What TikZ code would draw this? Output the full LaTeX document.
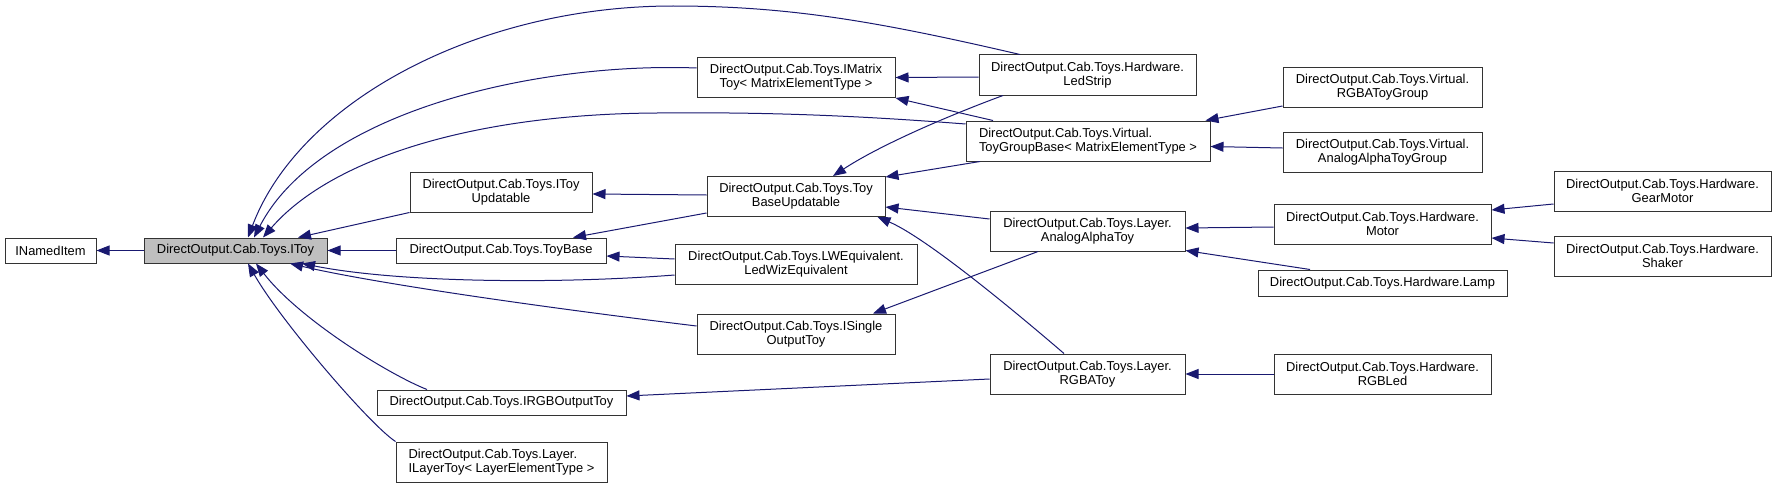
\documentclass[tikz,border=0pt]{standalone}
\usepackage{fontspec}
\setmainfont{Liberation Sans}
\usetikzlibrary{arrows.meta}
\definecolor{edgeblue}{RGB}{25,25,112}
\definecolor{boxgray}{RGB}{191,191,191}
\begin{document}
\begin{tikzpicture}[x=1pt,y=-1pt,
  box/.style={draw=black!80, line width=1pt, fill=white, inner sep=0pt,
    font=\fontsize{12.9}{14}\selectfont, align=center},
  lbox/.style={box, align=left},
  edge/.style={draw=edgeblue, line width=1pt, -{Triangle[length=13pt,width=10pt]}}]
\useasboundingbox (0,0) rectangle (1776,487);
% nodes
\node[box, minimum width=91pt, minimum height=25pt] (named) at (50.5,250.5) {INamedItem};
\node[box, fill=boxgray, minimum width=183pt, minimum height=25pt] (itoy) at (235.5,250.5) {DirectOutput.Cab.Toys.IToy};
\node[box, minimum width=198pt, minimum height=40pt] (imatrix) at (796,77.5) {DirectOutput.Cab.Toys.IMatrix\\Toy< MatrixElementType >};
\node[box, minimum width=182pt, minimum height=40pt] (itoyupd) at (501,192) {DirectOutput.Cab.Toys.IToy\\Updatable};
\node[box, minimum width=210pt, minimum height=25pt] (toybase) at (501,250.5) {DirectOutput.Cab.Toys.ToyBase};
\node[box, minimum width=178pt, minimum height=40pt] (tbu) at (796,196.5) {DirectOutput.Cab.Toys.Toy\\BaseUpdatable};
\node[box, minimum width=242pt, minimum height=40pt] (ledwiz) at (796,264) {DirectOutput.Cab.Toys.LWEquivalent.\\LedWizEquivalent};
\node[box, minimum width=198pt, minimum height=40pt] (isingle) at (796,334) {DirectOutput.Cab.Toys.ISingle\\OutputToy};
\node[box, minimum width=249pt, minimum height=25pt] (irgb) at (501.5,402.5) {DirectOutput.Cab.Toys.IRGBOutputToy};
\node[lbox, minimum width=211pt, minimum height=40pt] (ilayer) at (501.5,462) {DirectOutput.Cab.Toys.Layer.\\ILayerToy< LayerElementType >};
\node[box, minimum width=217pt, minimum height=40pt] (ledstrip) at (1087.5,75) {DirectOutput.Cab.Toys.Hardware.\\LedStrip};
\node[lbox, minimum width=244pt, minimum height=40pt] (tgb) at (1088,141) {DirectOutput.Cab.Toys.Virtual.\\ToyGroupBase< MatrixElementType >};
\node[box, minimum width=195pt, minimum height=40pt] (aat) at (1087.5,231) {DirectOutput.Cab.Toys.Layer.\\AnalogAlphaToy};
\node[box, minimum width=195pt, minimum height=40pt] (rgbatoy) at (1087.5,374) {DirectOutput.Cab.Toys.Layer.\\RGBAToy};
\node[box, minimum width=199pt, minimum height=40pt] (rgbagroup) at (1382.5,87) {DirectOutput.Cab.Toys.Virtual.\\RGBAToyGroup};
\node[box, minimum width=199pt, minimum height=40pt] (aagroup) at (1382.5,152) {DirectOutput.Cab.Toys.Virtual.\\AnalogAlphaToyGroup};
\node[box, minimum width=217pt, minimum height=40pt] (motor) at (1382.5,224) {DirectOutput.Cab.Toys.Hardware.\\Motor};
\node[box, minimum width=249pt, minimum height=26pt] (lamp) at (1382.5,283) {DirectOutput.Cab.Toys.Hardware.Lamp};
\node[box, minimum width=217pt, minimum height=40pt] (rgbled) at (1382.5,374) {DirectOutput.Cab.Toys.Hardware.\\RGBLed};
\node[box, minimum width=217pt, minimum height=40pt] (gearmotor) at (1662.5,191) {DirectOutput.Cab.Toys.Hardware.\\GearMotor};
\node[box, minimum width=217pt, minimum height=40pt] (shaker) at (1662.5,256) {DirectOutput.Cab.Toys.Hardware.\\Shaker};
% edges into IToy
\draw[edge] (itoy.west) -- (named.east);
\draw[edge] ([xshift=-67.5pt]ledstrip.north) .. controls (880,22) and (790,6) .. (673,6) .. controls (480,6) and (300,100) .. ([xshift=12.5pt]itoy.north);
\draw[edge] ([yshift=9.5pt]imatrix.west) .. controls (540,62) and (320,110) .. ([xshift=18.5pt]itoy.north);
\draw[edge] ([yshift=17pt]tgb.west) .. controls (850,115) and (760,112) .. (657,113) .. controls (470,114) and (330,160) .. ([xshift=27.5pt]itoy.north);
\draw[edge] (itoyupd.south west) -- ([xshift=62.5pt]itoy.north);
\draw[edge] (toybase.west) -- (itoy.east);
\draw[edge] ([yshift=-11pt]ledwiz.west) .. controls (560,284) and (400,283) .. ([xshift=66.5pt]itoy.south);
\draw[edge] ([yshift=8pt]isingle.west) .. controls (500,302) and (360,280) .. ([xshift=54.5pt]itoy.south);
\draw[edge] ([xshift=-74.5pt]irgb.north) .. controls (390,375) and (300,320) .. ([xshift=20.5pt]itoy.south);
\draw[edge] (ilayer.north west) .. controls (370,425) and (280,320) .. ([xshift=12.5pt]itoy.south);
% other edges
\draw[edge] ([yshift=1.5pt]tbu.west) -- ([yshift=-2pt]itoyupd.east);
\draw[edge] ([yshift=4pt]tbu.south west) -- ([xshift=72pt]toybase.north);
\draw[edge] ([yshift=5pt]ledwiz.west) -- ([yshift=-5.5pt]toybase.east);
\draw[edge] ([xshift=-84.5pt]ledstrip.south) .. controls (950,115) and (880,145) .. ([xshift=37pt]tbu.north);
\draw[edge] ([xshift=-108pt]tgb.south) -- ([yshift=-1pt]tbu.north east);
\draw[edge] ([yshift=12pt]aat.west) -- ([yshift=-10.5pt]tbu.east);
\draw[edge] ([xshift=-23.5pt]rgbatoy.north) .. controls (990,290) and (920,235) .. ([xshift=-8pt]tbu.south east);
\draw[edge] ([yshift=-2pt]ledstrip.west) -- (imatrix.east);
\draw[edge] ([xshift=-95pt]tgb.north) -- (imatrix.south east);
\draw[edge] ([yshift=-19pt]rgbagroup.west) -- ([xshift=-5pt]tgb.north east);
\draw[edge] ([yshift=4pt]aagroup.west) -- ([yshift=-5.5pt]tgb.east);
\draw[edge] ([xshift=-49.5pt]aat.south) -- ([xshift=77pt]isingle.north);
\draw[edge] ([yshift=-5pt]rgbatoy.west) -- ([yshift=6.5pt]irgb.east);
\draw[edge] ([yshift=-3pt]motor.west) -- ([yshift=3pt]aat.east);
\draw[edge] ([xshift=-72.5pt]lamp.north) -- ([yshift=1pt]aat.south east);
\draw[edge] (rgbled.west) -- (rgbatoy.east);
\draw[edge] ([yshift=-13pt]gearmotor.west) -- ([yshift=14pt]motor.east);
\draw[edge] ([yshift=13pt]shaker.west) -- ([yshift=-14pt]motor.east);
\end{tikzpicture}
\end{document}
